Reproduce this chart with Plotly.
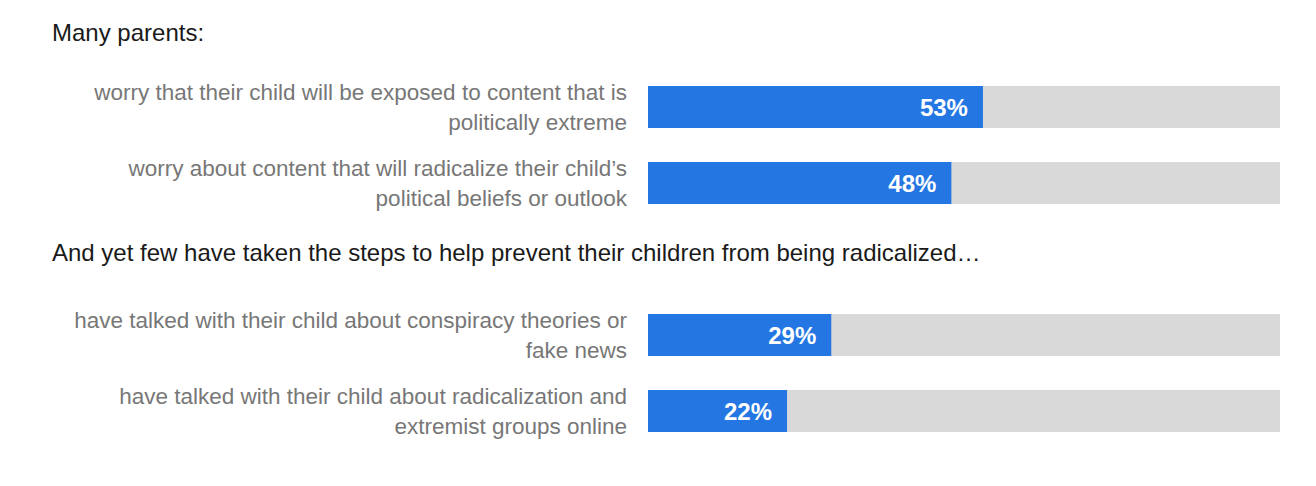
import plotly.graph_objects as go

# rows top to bottom; headings sit in their own slots
heading_1 = "Many parents:"
heading_2 = "And yet few have taken the steps to help prevent their children from being radicalized…"
categories = [
    "worry that their child will be exposed to content that is<br>politically extreme",
    "worry about content that will radicalize their child’s<br>political beliefs or outlook",
    "have talked with their child about conspiracy theories or<br>fake news",
    "have talked with their child about radicalization and<br>extremist groups online",
]
values = [53, 48, 29, 22]
full = [100, 100, 100, 100]

cat_order = [heading_1, categories[0], categories[1], heading_2, categories[2], categories[3]]

BLUE = "#2477E3"
GRAY = "#D9D9D9"

fig = go.Figure()
fig.add_trace(go.Bar(
    y=categories, x=full, orientation="h",
    marker=dict(color=GRAY, line_width=0),
    width=0.55, hoverinfo="skip",
))
fig.add_trace(go.Bar(
    y=categories, x=values, orientation="h",
    marker=dict(color=BLUE, line_width=0),
    width=0.55,
    text=[f"{v}%\u2002" for v in values],
    textposition="inside", insidetextanchor="end",
    textfont=dict(family="Liberation Sans, Arial", size=24, color="white", weight="bold"),
))

# page has an 8px body margin, so the figure is 16px smaller than the window
W, H = 1300, 470
ML, MR, MT, MB = 640, 28, 61, 29
plot_h = H - MT - MB

fig.update_layout(
    width=W, height=H,
    barmode="overlay",
    showlegend=False,
    plot_bgcolor="white", paper_bgcolor="white",
    margin=dict(l=ML, r=MR, t=MT, b=MB),
    font=dict(family="Liberation Sans, Arial", size=22.5, color="#777777"),
    xaxis=dict(range=[0, 100], visible=False),
    yaxis=dict(
        type="category", categoryorder="array", categoryarray=cat_order,
        range=[5.5, 0.5],
        tickvals=categories, ticktext=categories,
        showgrid=False, zeroline=False, showline=False, ticks="",
        ticklabelstandoff=20,
    ),
)

plot_w = W - ML - MR
for h, ypix in [(heading_1, 32), (heading_2, 253)]:
    fig.add_annotation(
        text=h, xref="paper", x=(50 - 8 - ML) / plot_w, xanchor="left",
        yref="paper", y=1 + (MT - (ypix - 8)) / plot_h, yanchor="middle",
        showarrow=False, font=dict(size=24, color="#1A1A1A"),
    )

fig.write_html("out.html")
